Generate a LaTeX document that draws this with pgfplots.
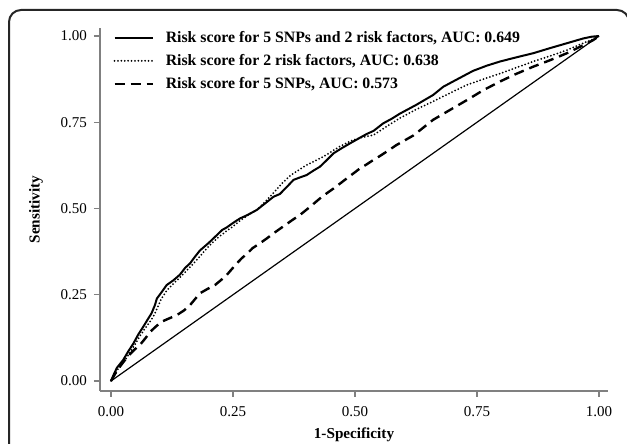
\documentclass[border=0pt]{standalone}
\usepackage{fontspec}
\setmainfont{Liberation Serif}
\usepackage{pgfplots}
\pgfplotsset{compat=1.18}

\pgfplotstableread{
x y
0 0
0.006 0.020
0.012 0.038
0.025 0.061
0.035 0.085
0.046 0.109
0.056 0.135
0.066 0.157
0.075 0.178
0.083 0.196
0.090 0.220
0.094 0.239
0.104 0.258
0.114 0.278
0.128 0.292
0.141 0.308
0.152 0.328
0.162 0.341
0.172 0.360
0.182 0.378
0.200 0.400
0.217 0.423
0.228 0.438
0.237 0.445
0.250 0.458
0.264 0.471
0.278 0.480
0.299 0.496
0.316 0.515
0.333 0.534
0.346 0.542
0.360 0.562
0.374 0.583
0.387 0.590
0.401 0.597
0.415 0.610
0.428 0.621
0.442 0.640
0.456 0.660
0.473 0.675
0.490 0.689
0.510 0.705
0.524 0.716
0.538 0.725
0.558 0.747
0.575 0.760
0.592 0.775
0.625 0.800
0.660 0.829
0.681 0.853
0.710 0.875
0.742 0.899
0.770 0.914
0.797 0.926
0.830 0.938
0.865 0.950
0.900 0.965
0.934 0.979
0.968 0.993
0.985 0.998
1 1
}\combined

\pgfplotstableread{
x y
0 0
0.008 0.020
0.015 0.036
0.028 0.058
0.040 0.085
0.050 0.108
0.060 0.132
0.070 0.153
0.080 0.172
0.088 0.190
0.096 0.215
0.102 0.235
0.114 0.262
0.128 0.282
0.141 0.300
0.155 0.320
0.170 0.342
0.185 0.366
0.200 0.390
0.217 0.413
0.237 0.435
0.250 0.448
0.264 0.464
0.278 0.478
0.299 0.496
0.316 0.520
0.333 0.545
0.350 0.572
0.367 0.595
0.384 0.611
0.401 0.626
0.418 0.638
0.435 0.650
0.452 0.665
0.469 0.680
0.490 0.695
0.510 0.705
0.538 0.713
0.565 0.738
0.592 0.762
0.625 0.787
0.660 0.810
0.695 0.835
0.729 0.858
0.763 0.875
0.797 0.891
0.830 0.908
0.865 0.926
0.900 0.942
0.934 0.959
0.960 0.975
0.982 0.987
1 1
}\riskfactors

\pgfplotstableread{
x y
0 0
0.009 0.022
0.018 0.041
0.028 0.060
0.039 0.078
0.049 0.092
0.059 0.104
0.070 0.123
0.080 0.142
0.092 0.158
0.104 0.172
0.120 0.182
0.135 0.191
0.150 0.205
0.162 0.220
0.172 0.237
0.182 0.254
0.198 0.267
0.213 0.278
0.225 0.292
0.237 0.307
0.248 0.325
0.258 0.341
0.268 0.356
0.278 0.368
0.290 0.385
0.305 0.399
0.320 0.414
0.333 0.428
0.345 0.440
0.357 0.452
0.372 0.467
0.387 0.481
0.408 0.505
0.428 0.529
0.442 0.544
0.456 0.558
0.470 0.573
0.483 0.587
0.497 0.602
0.510 0.616
0.524 0.628
0.538 0.641
0.552 0.653
0.565 0.665
0.585 0.684
0.620 0.712
0.660 0.757
0.695 0.786
0.729 0.814
0.763 0.843
0.797 0.868
0.830 0.890
0.865 0.911
0.900 0.930
0.934 0.950
0.960 0.968
0.988 0.988
1 1
}\snps

\begin{document}
\begin{tikzpicture}
\useasboundingbox (0,0) rectangle (313.5pt,222pt);
% rounded frame round the figure
\begin{scope}
\clip (0,0) rectangle (313.5pt,222pt);
\draw[line width=1pt, black!85, rounded corners=6pt]
  (4.5pt,-10pt) -- (4.5pt,217pt) -- (314.5pt,217pt) -- (314.5pt,-10pt);
\end{scope}

\begin{axis}[
    at={(50pt,26.5pt)}, anchor=south west,
    scale only axis,
    width=254pt, height=181.5pt,
    xmin=-0.02254, xmax=1.0184,
    ymin=-0.029, ymax=1.0232,
    axis lines*=left,
    axis line style={gray, line width=0.6pt},
    tick style={gray, line width=0.6pt},
    tick align=outside,
    major tick length=3pt,
    xtick={0,0.25,0.5,0.75,1},
    ytick={0,0.25,0.5,0.75,1},
    /pgf/number format/assume math mode=true,
    xticklabel style={yshift=-1pt, /pgf/number format/.cd, fixed, fixed zerofill, precision=2},
    yticklabel style={/pgf/number format/.cd, fixed, fixed zerofill, precision=2},
    tick label style={font=\fontsize{7.5}{9}\selectfont, black},
    xlabel={\textbf{1-Specificity}},
    ylabel={\textbf{Sensitivity}},
    label style={font=\fontsize{7.6}{9}\selectfont},
    xlabel style={at={(axis description cs:0.5,-0.121)}, anchor=center},
    ylabel style={at={(axis description cs:-0.126,0.5)}, anchor=center},
    legend image code/.code={\draw[#1] (0pt,0pt) -- (19pt,0pt); \path (25pt,0pt);},
    legend cell align=left,
    legend style={draw=none, fill=none, inner sep=0pt,
        at={(axis cs:0.004,0.928)}, anchor=west,
        font=\fontsize{7.9}{9}\selectfont\bfseries,
        nodes={inner sep=0pt, text height=6pt, text depth=1.5pt},
        row sep=4pt},
]
\addplot[black, line width=1pt, line join=round] table {\combined};
\addlegendentry{Risk score for 5 SNPs and 2 risk factors, AUC: 0.649}
\addplot[black, line width=1pt, line cap=round, dash pattern=on 0pt off 1.7pt] table {\riskfactors};
\addlegendentry{Risk score for 2 risk factors, AUC: 0.638}
\addplot[black, line width=1.2pt, dash pattern=on 5pt off 3pt] table {\snps};
\addlegendentry{Risk score for 5 SNPs, AUC: 0.573}
\addplot[black, line width=0.6pt, forget plot] coordinates {(0,0) (1,1)};
\end{axis}
\end{tikzpicture}
\end{document}
